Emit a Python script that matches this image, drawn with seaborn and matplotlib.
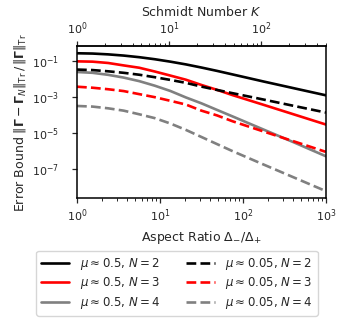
import numpy  as np
import pandas as pd
import seaborn as sns
from matplotlib import pyplot as plt
from matplotlib import ticker

sns.set_theme(style="ticks")
plt.rcParams['font.family']      = ['DejaVu Sans']
plt.rcParams['mathtext.fontset'] = 'dejavusans'
plt.rcParams.update({ 'font.size'         : 9,
                      'axes.labelsize'    : 9,
                      'xtick.labelsize'   : 8,
                      'ytick.labelsize'   : 8,
                      'axes.linewidth'    : 1.1,
                      'xtick.major.size'  : 3.5,
                      'ytick.major.size'  : 3.5,
                      'xtick.minor.size'  : 2.0,
                      'ytick.minor.size'  : 2.0,
                      'xtick.major.width' : 0.9,
                      'ytick.major.width' : 0.9,
                      'xtick.minor.width' : 0.7,
                      'ytick.minor.width' : 0.7,
                      'xtick.major.pad'   : 3.5,
                      'xtick.minor.pad'   : 3.5 })

# aspect ratio Delta_-/Delta_+ (sample positions)
aspect = [1.0, 1.54, 2.371, 3.652, 5.623, 8.66, 13.34, 20.54, 31.62, 48.7, 74.99, 177.8, 421.7, 1000.0]

# error bound, mu ~ 0.5
err_05_N2 = [0.274, 0.264, 0.238, 0.204, 0.166, 0.128, 0.0938, 0.0661, 0.0443, 0.0289,
             0.0184, 7.43e-3, 3.08e-3, 1.28e-3]
err_05_N3 = [0.0975, 0.0938, 0.0793, 0.0581, 0.0432, 0.0267, 0.0159, 9.38e-3, 4.79e-3, 2.57e-3,
             1.31e-3, 3.79e-4, 1.08e-4, 3.08e-5]
err_05_N4 = [0.0251, 0.0226, 0.0175, 0.0123, 7.82e-3, 4.37e-3, 2.23e-3, 9.75e-4, 4.60e-4, 1.99e-4,
             8.67e-5, 1.61e-5, 3.01e-6, 5.37e-7]
# error bound, mu ~ 0.05
err_005_N2 = [0.0342, 0.0321, 0.0274, 0.0226, 0.0177, 0.0129, 9.14e-3, 6.28e-3, 3.89e-3, 2.54e-3,
              1.68e-3, 7.43e-4, 3.24e-4, 1.42e-4]
err_005_N3 = [3.84e-3, 3.37e-3, 2.78e-3, 2.20e-3, 1.49e-3, 1.01e-3, 6.35e-4, 3.94e-4, 1.81e-4, 9.86e-5,
              4.67e-5, 1.26e-5, 3.46e-6, 9.38e-7]
err_005_N4 = [3.29e-4, 3.04e-4, 2.44e-4, 1.81e-4, 1.14e-4, 6.97e-5, 3.51e-5, 1.55e-5, 6.28e-6, 2.54e-6,
              1.03e-6, 1.86e-7, 3.42e-8, 6.28e-9]

series = [ (err_05_N2 , '0.5' , 2), (err_05_N3 , '0.5' , 3), (err_05_N4 , '0.5' , 4),
           (err_005_N2, '0.05', 2), (err_005_N3, '0.05', 3), (err_005_N4, '0.05', 4) ]
colors = {2: 'black', 3: 'red', 4: 'gray'}

fig = plt.figure(figsize=(3.46, 3.22), dpi=100)
ax  = fig.add_axes([0.2225, 0.385, 0.7195, 0.471])

for vals, mu, N in series:
    data = pd.DataFrame({'r': aspect, 'err': vals})
    sns.lineplot(x='r', y='err', data=data, ax=ax, color=colors[N],
                 linestyle='-' if mu == '0.5' else '--', linewidth=1.9,
                 label=r'$\mu \approx %s$, $N = %d$' % (mu, N))

ax.set_xscale('log')
ax.set_yscale('log')
ax.set_xlim(1, 1000)
ax.yaxis.set_major_locator(ticker.FixedLocator([1e-1, 1e-3, 1e-5, 1e-7]))
ax.yaxis.set_minor_locator(ticker.NullLocator())
ax.xaxis.set_major_locator(ticker.LogLocator(base=10))
ax.xaxis.set_minor_locator(ticker.LogLocator(base=10, subs=np.arange(2, 10)))
ax.tick_params(axis='y', pad=9.5)
ax.set_xlabel(r'Aspect Ratio $\mathit{\Delta}_{-}/\mathit{\Delta}_{+}$', labelpad=3)
ax.set_ylabel(r'Error Bound $\Vert\boldsymbol{\Gamma}-\boldsymbol{\Gamma}_N\Vert_{\mathrm{Tr}}'
              r'\,/\,\Vert\boldsymbol{\Gamma}\Vert_{\mathrm{Tr}}$', labelpad=3)
for s in ax.spines.values():
    s.set_visible(True)
    s.set_color('black')

def to_K(r):
    r = np.clip(r, 1e-12, None)
    return 0.5 * (r + 1.0 / r)

def from_K(K):
    K = np.clip(K, 1.0, None)
    return K + np.sqrt(K**2 - 1.0)

top = ax.secondary_xaxis('top', functions=(to_K, from_K))
top.set_xscale('log')
top.xaxis.set_major_locator(ticker.FixedLocator([1, 10, 100]))
top.xaxis.set_minor_locator(ticker.FixedLocator(
    [m * d for d in (1, 10, 100) for m in range(2, 10) if m * d <= 500]))
top.xaxis.set_major_formatter(ticker.LogFormatterSciNotation())
top.set_xlabel(r'Schmidt Number $K$', labelpad=3)

handles, labels = ax.get_legend_handles_labels()
ax.get_legend().remove()
fig.legend(handles, labels, loc='upper center', ncol=2, bbox_to_anchor=(0.5116, 0.2205),
           borderaxespad=0, fontsize=8.5, labelspacing=0.3, handlelength=2.4,
           handletextpad=0.9, columnspacing=2.2)

fig.savefig('out.png', dpi=100)
